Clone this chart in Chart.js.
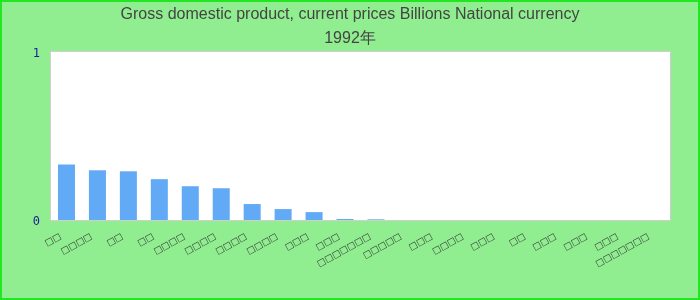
<!DOCTYPE html>
<html>
<head>
<meta charset="utf-8">
<script src="https://cdn.jsdelivr.net/npm/chart.js@4/dist/chart.umd.min.js"></script>
<style>
  html, body { margin: 0; padding: 0; background: #90ee90; }
  #wrap { position: relative; width: 700px; height: 300px; }
  canvas { display: block; }
</style>
</head>
<body>
<div id="wrap"><canvas id="c" width="700" height="300"></canvas></div>
<script>
// Title lines
const titleLines = ["Gross domestic product, current prices Billions National currency", "1992年"];
// Category labels (original CJK text rendered as missing-glyph boxes in the reference; unreadable)
const categories = [
  "□□", "□□□□", "□□", "□□", "□□□□", "□□□□", "□□□□", "□□□□", "□□□", "□□□",
  "□□□□□□□", "□□□□□", "□□□", "□□□□", "□□□", "□□", "□□□", "□□□", "□□□", "□□□□□□□"
];
// Series values
const values = [0.331, 0.296, 0.290, 0.243, 0.201, 0.189, 0.095, 0.065, 0.047, 0.006, 0.004,
  0, 0, 0, 0, 0, 0, 0, 0, 0];
// Y tick values
const yTicks = [0, 1];

const frame = {
  id: 'frame',
  beforeDraw(chart) {
    const { ctx, chartArea: a } = chart;
    ctx.save();
    ctx.fillStyle = '#ffffff';
    ctx.fillRect(a.left, a.top, a.right - a.left, a.bottom - a.top);
    ctx.restore();
  },
  afterDatasetsDraw(chart) {
    const { ctx, chartArea: a } = chart;
    ctx.save();
    ctx.strokeStyle = '#cfcfcf';
    ctx.lineWidth = 1;
    ctx.strokeRect(a.left - 0.5, a.top - 0.5, a.right - a.left + 1, a.bottom - a.top + 1);
    ctx.restore();
  },
  afterDraw(chart) {
    const { ctx, width, height } = chart;
    ctx.save();
    ctx.strokeStyle = '#22e622';
    ctx.lineWidth = 2;
    ctx.strokeRect(1, 1, width - 2, height - 2);
    ctx.restore();
  }
};

new Chart(document.getElementById('c'), {
  type: 'bar',
  data: {
    labels: categories,
    datasets: [{
      data: values,
      backgroundColor: '#62aaf5',
      borderWidth: 0,
      barPercentage: 0.55,
      categoryPercentage: 1.0
    }]
  },
  options: {
    responsive: false,
    animation: false,
    layout: { padding: 0 },
    plugins: {
      legend: { display: false },
      tooltip: { enabled: false },
      title: {
        display: true,
        text: titleLines,
        color: '#444444',
        font: { family: 'Liberation Sans, Arial', size: 16, weight: 'normal', lineHeight: 1.5 },
        padding: { top: 3, bottom: 1 }
      }
    },
    scales: {
      x: {
        grid: { display: false },
        border: { display: false },
        ticks: {
          autoSkip: false,
          minRotation: 29,
          maxRotation: 29,
          labelOffset: -6,
          color: '#333333',
          font: { family: 'DejaVu Sans', size: 9 }
        },
        afterFit(scale) { scale.height = 80; }
      },
      y: {
        min: 0,
        max: 1,
        grid: { display: false },
        border: { display: false },
        afterBuildTicks(scale) { scale.ticks = yTicks.map(v => ({ value: v })); },
        ticks: {
          color: '#1a1a9c',
          font: { family: 'DejaVu Sans Mono', size: 12 },
          padding: 3,
          labelOffset: 1.5
        },
        afterFit(scale) { scale.width = 51; }
      },
      yRight: {
        position: 'right',
        min: 0,
        max: 1,
        grid: { display: false },
        border: { display: false },
        ticks: { display: false },
        afterFit(scale) { scale.width = 30; }
      }
    }
  },
  plugins: [frame]
});
</script>
</body>
</html>
